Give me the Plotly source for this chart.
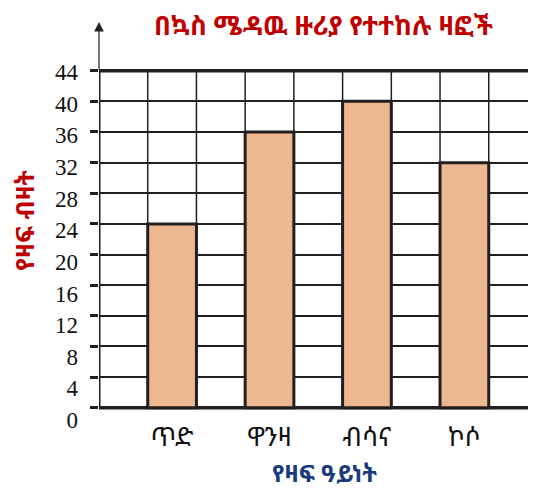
import plotly.graph_objects as go

# ---- data ----
categories = ["ጥድ", "ዋንዛ", "ብሳና", "ኮሶ"]
tree_counts = [24, 36, 40, 32]
y_ticks = [0, 4, 8, 12, 16, 20, 24, 28, 32, 36, 40, 44]
title_text = "በኳስ ሜዳዉ ዙሪያ የተተከሉ ዛፎች"
x_title = "የዛፍ ዓይነት"
y_title = "የዛፍ ብዛት"

LINE = "#231f20"
BAR = "#edb790"
ETH_FONT = "Noto Sans Ethiopic, Abyssinica SIL, DejaVu Sans, sans-serif"
NUM_FONT = "Liberation Serif, Times New Roman, serif"

# layout positions: each bar occupies every second grid cell
positions = [2 * i + 1.5 for i in range(len(categories))]
n_cells = 2 * len(categories) + 1
y_top = y_ticks[-1]

fig = go.Figure()
fig.add_trace(go.Bar(
    x=positions, y=tree_counts, width=1.0,
    marker=dict(color=BAR, line=dict(color=LINE, width=3)),
    hoverinfo="y", showlegend=False,
))
# invisible trace to activate label axis
fig.add_trace(go.Scatter(x=[0], y=[0], yaxis="y2", mode="markers",
                         marker=dict(opacity=0), showlegend=False, hoverinfo="skip"))

shapes = []
# vertical grid lines (0..y_top only)
for k in range(n_cells):
    shapes.append(dict(type="line", xref="x", yref="y", x0=k, x1=k, y0=0, y1=y_top,
                       line=dict(color=LINE, width=3 if k == 0 else 1.5), layer="below"))
# thick bottom & top lines
for yv in (0, y_top):
    shapes.append(dict(type="line", xref="paper", yref="y", x0=0, x1=1, y0=yv, y1=yv,
                       line=dict(color=LINE, width=3.5), layer="below"))

fig.update_layout(
    width=528, height=481,
    margin=dict(l=91, r=0, t=52, b=59),
    paper_bgcolor="white", plot_bgcolor="white",
    shapes=shapes,
    xaxis=dict(range=[0, 8.97], tickvals=positions, ticktext=categories,
               showgrid=False, zeroline=False, showline=False, ticks="",
               tickfont=dict(family=ETH_FONT, size=26, color="#111111"),
               ticklabelstandoff=-11),
    yaxis=dict(range=[-2.91, 45.40], tickvals=y_ticks, showticklabels=False,
               showgrid=True, gridcolor=LINE, gridwidth=2, zeroline=False,
               ticks="outside", ticklen=8, tickwidth=3, tickcolor=LINE, showline=False),
    yaxis2=dict(range=[-1.26, 45.52], overlaying="y", side="left",
                tickvals=y_ticks, ticktext=[str(v) for v in y_ticks],
                showgrid=False, zeroline=False, showline=False, ticks="",
                tickfont=dict(family=NUM_FONT, size=23, color="#111111"),
                ticklabelstandoff=20),
    annotations=[
        dict(text="<b>" + title_text + "</b>", xref="paper", yref="paper",
             x=(323 - 99) / 437, y=(430 - 25) / 370, xanchor="center", yanchor="middle",
             showarrow=False, font=dict(family=ETH_FONT, size=26, color="#c00000")),
        dict(text="<b>" + x_title + "</b>", xref="paper", yref="paper",
             x=(324 - 99) / 437, y=(430 - 472) / 370, xanchor="center", yanchor="middle",
             showarrow=False, font=dict(family=ETH_FONT, size=24, color="#1b3c7c")),
        dict(text="<b>" + y_title + "</b>", xref="paper", yref="paper", textangle=-90,
             x=(24 - 99) / 437, y=(430 - 220) / 370, xanchor="center", yanchor="middle",
             showarrow=False, font=dict(family=ETH_FONT, size=25, color="#c00000")),
        # y axis arrow above the grid
        dict(text="", xref="x", yref="paper", x=0, y=(430 - 22) / 370,
             ax=0, ay=49, axref="pixel", ayref="pixel", showarrow=True,
             arrowhead=2, arrowsize=1.6, arrowwidth=1.2, arrowcolor=LINE, standoff=0),
    ],
)

fig.write_html("out.html")
